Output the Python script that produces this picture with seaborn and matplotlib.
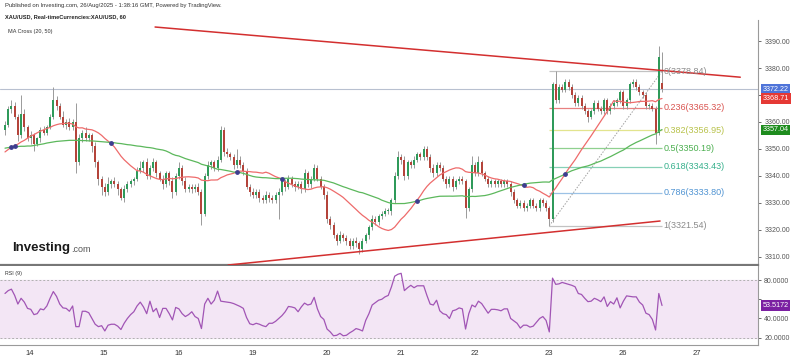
import numpy as np
import pandas as pd
import matplotlib
matplotlib.use("Agg")
import matplotlib.pyplot as plt
import seaborn as sns

# hourly closes, one row per trading day
closes = [
    3359, 3365, 3366, 3362, 3355, 3363, 3358, 3354, 3355, 3352, 3354, 3357, 3356, 3358, 3362, 3368, 3366, 3362, 3359, 3360, 3358, 3360, 3345,
    3354, 3356, 3354, 3355, 3351, 3345, 3339, 3336, 3334, 3337, 3338, 3337, 3335, 3332, 3335, 3337, 3338, 3339, 3342, 3343, 3345, 3340, 3343,
    3345, 3341, 3339, 3337, 3341, 3338, 3334, 3340, 3343, 3338, 3335, 3336, 3335, 3336, 3334, 3326, 3340, 3344, 3345, 3343, 3346, 3357, 3349,
    3348, 3347, 3344, 3346, 3344, 3342, 3336, 3334, 3333, 3334, 3332, 3331, 3333, 3332, 3331, 3333, 3334, 3338, 3336, 3339, 3337, 3336, 3337,
    3335, 3341, 3337, 3339, 3343, 3339, 3336, 3333, 3324, 3322, 3318, 3316, 3318, 3317, 3316, 3314, 3316, 3315, 3313, 3316, 3318, 3321, 3324,
    3323, 3325, 3326, 3327, 3327, 3331, 3340, 3347, 3346, 3340, 3345, 3344, 3346, 3348, 3347, 3350, 3347, 3343, 3341, 3344, 3343, 3339, 3337,
    3339, 3336, 3338, 3339, 3338, 3328, 3335, 3344, 3341, 3345, 3341, 3339, 3337, 3338, 3337, 3338, 3337, 3338, 3337, 3334, 3331, 3329, 3330,
    3328, 3329, 3331, 3329, 3328, 3331, 3330, 3328, 3324, 3374, 3368, 3373, 3372, 3375, 3373, 3370, 3367, 3369, 3366, 3364, 3362, 3364, 3367,
    3365, 3364, 3368, 3364, 3366, 3367, 3368, 3371, 3366, 3368, 3374, 3375, 3373, 3371, 3370, 3366, 3366, 3365, 3356, 3384, 3372.22,
]
wick_up = [
    1.5, 1.0, 2.0, 1.5, 1.0, 7.0, 2.0, 1.0, 1.5, 1.0, 0.5, 1.0, 1.5, 1.0, 1.0, 5.0, 1.5, 1.0, 2.0, 1.0, 1.5, 1.0, 7.0,
    1.5, 1.0, 2.0, 1.0, 1.0, 1.5, 1.0, 1.0, 1.5, 2.5, 1.0, 1.5, 1.0, 1.0, 1.5, 1.0, 1.0, 0.5, 1.5, 2.5, 1.0, 1.5, 1.0,
    1.5, 1.0, 1.0, 1.5, 1.0, 1.0, 1.5, 1.0, 2.0, 1.0, 1.5, 1.0, 1.0, 1.0, 1.5, 1.0, 1.0, 1.5, 1.0, 1.0, 1.5, 1.5, 1.0,
    1.5, 1.0, 1.0, 4.0, 1.5, 1.0, 1.0, 1.0, 1.5, 1.0, 1.0, 1.0, 1.5, 1.0, 1.0, 1.0, 1.5, 1.0, 1.0, 1.5, 1.0, 1.0, 1.0,
    1.0, 1.5, 1.0, 1.0, 1.4, 1.0, 1.0, 1.0, 1.5, 1.0, 1.0, 1.0, 1.5, 1.0, 1.0, 1.0, 1.0, 1.5, 1.0, 1.0, 1.0, 1.0, 1.5,
    1.0, 1.0, 1.0, 1.0, 1.0, 1.0, 1.5, 2.3, 1.0, 1.5, 1.0, 1.0, 1.5, 1.0, 1.0, 1.0, 1.0, 1.0, 1.5, 1.0, 1.0, 1.0, 1.0,
    1.0, 1.0, 1.0, 1.0, 1.0, 1.0, 1.0, 3.4, 1.0, 2.4, 1.0, 1.0, 1.0, 1.0, 1.0, 1.0, 1.0, 1.0, 1.0, 1.0, 1.0, 1.0, 1.0,
    1.0, 1.0, 1.0, 1.0, 1.0, 1.0, 1.0, 1.0, 1.0, 1.0, 4.8, 1.0, 1.0, 1.0, 1.0, 1.0, 1.0, 1.0, 1.0, 1.0, 1.0, 1.0, 1.0,
    1.0, 1.0, 1.0, 1.0, 1.0, 1.0, 1.0, 1.0, 1.0, 1.0, 1.0, 1.0, 1.0, 1.0, 1.0, 1.0, 1.0, 1.0, 1.0, 4.0, 11.5,
]
wick_dn = [
    2.0, 1.0, 1.5, 1.0, 2.0, 1.0, 1.5, 1.0, 2.0, 2.7, 1.0, 1.5, 1.0, 1.0, 0.5, 1.0, 1.5, 1.0, 1.0, 1.5, 1.0, 1.0, 4.0,
    1.0, 1.5, 1.0, 1.0, 2.0, 1.5, 2.5, 3.0, 1.5, 1.0, 1.5, 1.0, 2.0, 1.0, 1.5, 1.0, 1.0, 1.5, 1.0, 1.0, 1.5, 1.0, 1.0,
    1.0, 1.5, 1.0, 2.0, 1.0, 1.5, 2.0, 1.0, 1.0, 1.5, 1.0, 1.0, 1.5, 1.0, 1.0, 4.0, 1.0, 1.0, 1.5, 1.0, 1.0, 1.0, 1.5,
    1.0, 1.0, 1.5, 1.0, 1.0, 1.5, 1.0, 1.5, 1.0, 1.0, 1.5, 1.0, 1.0, 1.5, 1.0, 1.0, 8.8, 1.0, 1.5, 1.0, 1.0, 1.5, 1.0,
    1.5, 1.0, 1.0, 1.5, 1.0, 1.0, 1.0, 1.5, 1.5, 1.5, 1.0, 1.5, 1.0, 1.0, 1.5, 1.0, 1.0, 1.5, 2.0, 1.0, 1.0, 1.5, 1.0,
    1.0, 1.0, 1.0, 1.0, 1.0, 1.5, 1.0, 1.0, 1.5, 1.5, 1.0, 1.0, 1.0, 1.0, 1.0, 1.0, 1.0, 1.5, 1.5, 1.0, 1.0, 1.0, 1.5,
    1.0, 1.5, 1.0, 1.0, 1.0, 3.4, 1.0, 1.0, 1.0, 1.0, 1.0, 1.0, 1.0, 1.0, 1.0, 1.0, 1.0, 1.0, 1.0, 1.5, 1.0, 1.0, 1.0,
    1.0, 1.0, 1.0, 1.0, 1.0, 1.0, 1.0, 1.0, 2.5, 1.0, 1.0, 1.0, 1.0, 1.0, 1.0, 1.0, 1.0, 1.0, 1.0, 1.0, 2.0, 1.0, 1.0,
    1.0, 1.0, 1.0, 1.0, 1.0, 1.0, 1.0, 1.0, 1.0, 1.0, 1.0, 1.0, 1.0, 1.0, 1.0, 1.0, 1.0, 1.0, 4.0, 1.0, 1.0,
]
first_open = 3357.0
open_gaps = {204: 3374.5}

rsi_values = [
    66, 69, 70.5, 64, 55, 61, 57, 50.5, 49.5, 44, 45, 50, 49, 53, 61, 68, 63, 55, 51, 50.5, 47.5, 53, 31.5,
    31.5, 47.5, 47.5, 46, 40, 34, 31.5, 32.5, 27, 33, 34, 34, 32, 28.5, 35, 40, 44, 47, 53, 57, 52, 45, 58,
    47, 50.5, 41, 50.5, 50.5, 45, 38.5, 51.5, 50, 45, 42, 44, 47, 42, 40, 29.5, 55, 61, 55, 59, 68.5, 58, 57.5,
    57, 56.5, 55.5, 54, 52.5, 50.5, 41, 34.5, 33.5, 35, 34, 32.5, 31.5, 35, 35, 37, 40, 43, 47, 52.5, 52, 51, 47,
    52, 56, 54, 55, 62, 50, 42, 39, 29, 26, 22, 22.5, 24.5, 22, 22.5, 25, 27, 29.5, 28.5, 27, 38, 45, 54,
    56.5, 59, 60, 62.5, 64, 73, 84, 86, 87, 69, 72, 74.5, 72, 74, 74, 74, 64, 55, 54, 59, 48, 45, 44,
    40, 48, 49, 51, 50, 29, 45, 54, 52, 58, 55.5, 50.5, 45.5, 49.5, 49.5, 49, 48, 50, 50, 40, 37.5, 35, 30,
    33, 33, 31, 32, 36, 40, 42, 38, 26, 82, 75.5, 76, 77.5, 76.5, 75.5, 74.5, 73, 66, 65, 61, 57.5, 58, 61,
    59.5, 57.5, 62.5, 52.5, 57.5, 55, 61.5, 51, 58, 63.5, 63, 62.5, 62.5, 57, 54, 45.5, 44, 39, 28, 66, 53.5172,
]

# moving averages at the left edge, before enough closes are on screen
ma20_head = [3348.9, 3349.8, 3350.7, 3351.2, 3351.8, 3352.6, 3353.2, 3354.0, 3354.8, 3355.3,
             3356.0, 3356.6, 3357.1, 3357.6, 3358.0, 3358.6, 3359.0, 3359.3, 3359.4]
ma50_head = [3350.3, 3350.5, 3350.7, 3350.8, 3350.9, 3351.0, 3351.0, 3351.1, 3351.1, 3351.3,
             3351.5, 3351.7, 3351.9, 3352.2, 3352.4, 3352.6, 3352.8, 3352.9, 3353.0, 3353.1,
             3353.2, 3353.2, 3353.2, 3353.2, 3353.1, 3353.1, 3353.0, 3353.0, 3352.9, 3352.8,
             3352.7, 3352.6, 3352.5, 3352.4, 3352.3, 3352.1, 3352.0, 3351.8, 3351.6, 3351.5,
             3351.3, 3351.1, 3351.0, 3350.8, 3350.6, 3350.5, 3350.3, 3350.0, 3349.8]

day_labels = ["14", "15", "16", "19", "20", "21", "22", "23", "26", "27"]
day_ticks = [7.8, 30.8, 53.8, 76.8, 99.8, 122.8, 145.8, 168.8, 191.8, 214.8]

price_ticks = [3310, 3320, 3330, 3340, 3350, 3360, 3370, 3380, 3390]
rsi_ticks = [20, 40, 60, 80]

fib_ratios = ["0", "0.236", "0.382", "0.5", "0.618", "0.786", "1"]
fib_prices = [3378.84, 3365.32, 3356.95, 3350.19, 3343.43, 3333.80, 3321.54]
fib_text_colors = ["#8a8a8a", "#d9534f", "#b8c24a", "#4caf50", "#36b08c", "#4f93d2", "#8a8a8a"]
fib_line_colors = ["#c2c2c2", "#e88080", "#e2e48e", "#8fd08f", "#86d0b6", "#9cc2e6", "#c2c2c2"]
fib_start, fib_end = 169, 204

upper_trend_x, upper_trend_y = [46.6, 228.3], [3395.2, 3376.6]
lower_trend_x, lower_trend_y = [69.3, 203.4], [3307.0, 3323.3]

last_price = 3372.22
tag_values = [3372.22, 3368.71, 3357.04]
tag_colors = ["#4f74d9", "#e53935", "#1e8c1e"]
rsi_last = 53.5172

# ---- build candles
n = len(closes)
idx = np.arange(n)
opens = [first_open] + closes[:-1]
for k, v in open_gaps.items():
    opens[k] = v
df = pd.DataFrame({"i": idx, "open": opens, "close": closes})
df["high"] = df[["open", "close"]].max(axis=1) + np.array(wick_up)
df["low"] = df[["open", "close"]].min(axis=1) - np.array(wick_dn)
df["up"] = df["close"] >= df["open"]

ma20 = df["close"].rolling(20).mean()
ma20.iloc[:19] = ma20_head
ma50 = df["close"].rolling(50).mean()
ma50.iloc[:49] = ma50_head
df["ma20"], df["ma50"] = ma20, ma50
df["rsi"] = rsi_values

sns.set_theme(style="white")
plt.rcParams["font.family"] = ["Liberation Sans", "DejaVu Sans"]

fig = plt.figure(figsize=(8, 3.58), dpi=100)
ax = fig.add_axes([0, 1 - 265 / 358, 758 / 800, 245 / 358])
rax = fig.add_axes([0, 1 - 345 / 358, 758 / 800, 79 / 358])

xlim = (-1.55, 233.8)

# price panel
ax.axhline(last_price, color="#b8c0d0", lw=0.8, zorder=1)
up_col, dn_col = "#2f9a5a", "#b4443b"
ax.vlines(df["i"], df["low"], df["high"], color="#9a9a9a", lw=0.7, zorder=2)
body_h = (df["close"] - df["open"]).abs().clip(lower=0.3)
body_b = df[["open", "close"]].min(axis=1)
ax.bar(df["i"], body_h, bottom=body_b, width=0.62,
       color=np.where(df["up"], up_col, dn_col), linewidth=0, zorder=3)

sns.lineplot(data=df, x="i", y="ma20", ax=ax, color="#ee6b6b", lw=0.9, zorder=4)
sns.lineplot(data=df, x="i", y="ma50", ax=ax, color="#5cb85c", lw=0.9, zorder=4)

diff = np.sign(df["ma20"] - df["ma50"]).values
cross = [k for k in range(1, n) if diff[k] != diff[k - 1]]
ax.scatter(cross, (df["ma20"].values[cross] + df["ma50"].values[cross]) / 2,
           s=6, color="#3d3d8f", zorder=5)

for r, p, tc, lc in zip(fib_ratios, fib_prices, fib_text_colors, fib_line_colors):
    ax.hlines(p, fib_start, fib_end, color=lc, lw=0.9, zorder=1.5)
    ax.text(fib_end + 0.4, p, f"{r}({p:.2f})", color=tc, fontsize=6.5,
            va="center", ha="left", zorder=6)
ax.plot([fib_start, fib_end], [fib_prices[-1], fib_prices[0]], color="#a0a0a0",
        lw=0.7, ls=(0, (1.5, 1.5)), zorder=2)

ax.plot(upper_trend_x, upper_trend_y, color="#d32f2f", lw=1.1, zorder=4)
ax.plot(lower_trend_x, lower_trend_y, color="#d32f2f", lw=1.1, zorder=4)

ax.set_xlim(*xlim)
ax.set_ylim(3307.0, 3397.8)
ax.set_xticks([])
ax.yaxis.tick_right()
ax.set_yticks(price_ticks)
# the 3370 label sits under the live price tag, as on the original
ax.set_yticklabels(["" if v == 3370 else f"{v:.2f}" for v in price_ticks])
ax.tick_params(axis="y", labelsize=5, colors="#555555", length=2.5, width=0.6, pad=2)
ax.set_xlabel("")
ax.set_ylabel("")
for s in ["top", "left"]:
    ax.spines[s].set_visible(False)
ax.spines["right"].set_color("#9a9a9a")
ax.spines["right"].set_linewidth(0.8)
ax.spines["bottom"].set_color("#777777")
ax.spines["bottom"].set_linewidth(1.6)

for v, c in zip(tag_values, tag_colors):
    ax.annotate(f"{v:.2f}", xy=(1.006, v), xycoords=("axes fraction", "data"),
                fontsize=5.2, color="white", va="center", ha="left",
                bbox=dict(boxstyle="square,pad=0.25", fc=c, ec="none"),
                annotation_clip=False, zorder=10)

# rsi panel
rax.axhspan(20, 80, color="#f3e6f5", zorder=0)
rax.axhline(80, color="#b0b0b0", lw=0.7, ls=(0, (2, 2)))
rax.axhline(20, color="#b0b0b0", lw=0.7, ls=(0, (2, 2)))
sns.lineplot(data=df, x="i", y="rsi", ax=rax, color="#a155b5", lw=0.9)
rax.set_xlim(*xlim)
rax.set_ylim(12.4, 94.6)
rax.yaxis.tick_right()
rax.set_yticks(rsi_ticks)
rax.set_yticklabels(["" if v == 60 else f"{v:.4f}" for v in rsi_ticks])
rax.set_xticks(day_ticks)
rax.set_xticklabels(day_labels)
rax.tick_params(axis="y", labelsize=5, colors="#555555", length=2.5, width=0.6, pad=2)
rax.tick_params(axis="x", labelsize=5.5, colors="#333333", length=2.5, width=0.6, pad=1)
rax.set_xlabel("")
rax.set_ylabel("")
rax.spines["left"].set_visible(False)
rax.spines["top"].set_visible(False)
for s in ["right", "bottom"]:
    rax.spines[s].set_color("#9a9a9a")
    rax.spines[s].set_linewidth(0.8)
rax.annotate(f"{rsi_last:.4f}", xy=(1.006, rsi_last), xycoords=("axes fraction", "data"),
             fontsize=5.2, color="white", va="center", ha="left",
             bbox=dict(boxstyle="square,pad=0.25", fc="#7b1fa2", ec="none"),
             annotation_clip=False, zorder=10)
rax.text(0.007, 0.9, "RSI (9)", transform=rax.transAxes, fontsize=3.8,
         color="#333333", va="center", ha="left")

# header and logo
fig.text(5 / 800, 1 - 6 / 358, "Published on Investing.com, 26/Aug/2025 - 1:38:16 GMT, Powered by TradingView.",
         fontsize=4.2, color="#333333", va="center", ha="left")
fig.text(5 / 800, 1 - 17 / 358, "XAU/USD, Real-timeCurrencies:XAU/USD, 60",
         fontsize=4.1, fontweight="bold", color="#222222", va="center", ha="left")
fig.text(8 / 800, 1 - 32 / 358, "MA Cross (20, 50)", fontsize=4, color="#333333",
         va="center", ha="left")
fig.text(12 / 800, 1 - 248 / 358, "Investing", fontsize=9.5, fontweight="bold",
         color="#1a1a1a", va="center", ha="left")
fig.text(71 / 800, 1 - 249.5 / 358, ".com", fontsize=6.5, color="#555555", va="center", ha="left")

fig.savefig("out.png", dpi=100)
